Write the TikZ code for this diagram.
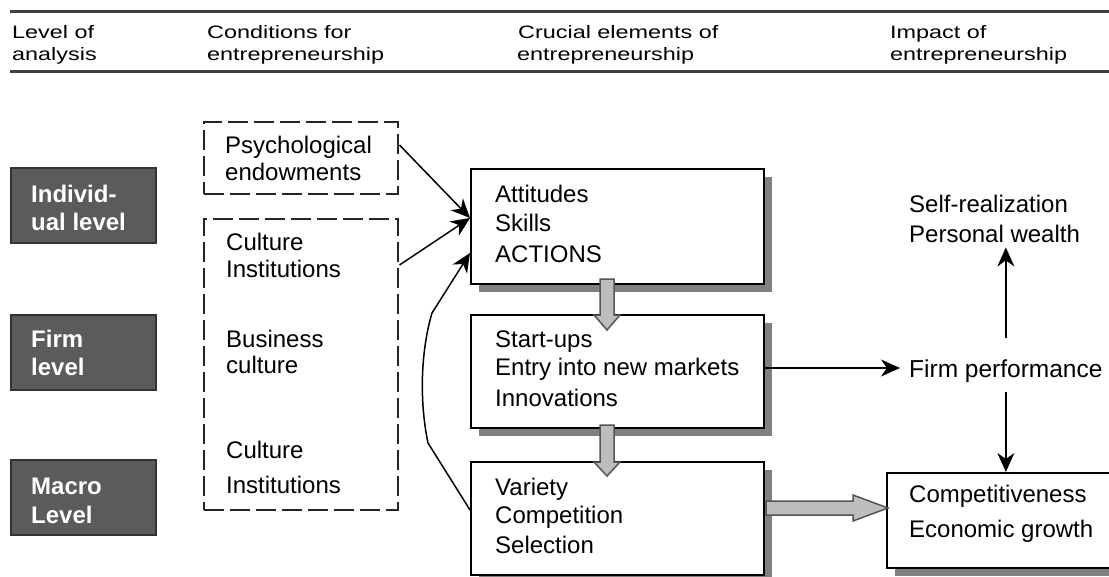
\documentclass[tikz,border=0pt]{standalone}
\usepackage{fontspec}
\setmainfont{Liberation Sans}
\newfontfamily\hdrfont[FakeStretch=1.3]{Liberation Sans}
\usetikzlibrary{calc,arrows.meta,shadows}
\definecolor{lvlgray}{HTML}{5B5B5B}
\definecolor{blkfill}{HTML}{BDBDBD}
\definecolor{blkline}{HTML}{555555}
\definecolor{shadowgray}{HTML}{808080}
\tikzset{
  txt/.style={anchor=base west, inner sep=0pt, font=\fontsize{24}{29}\selectfont},
  hdr/.style={anchor=base west, inner sep=0pt, font=\hdrfont\fontsize{18}{22}\selectfont},
  lvl/.style={draw=black!80, line width=1.5pt, fill=lvlgray, minimum width=145pt, minimum height=75pt, anchor=north west, inner sep=0pt},
  lvltxt/.style={anchor=base west, inner sep=0pt, text=white, font=\bfseries\fontsize{24}{29}\selectfont},
  dbox/.style={draw=black!85, line width=1.5pt, dash pattern=on 20pt off 6pt, anchor=north west, inner sep=0pt},
  sbox/.style={draw=black, line width=2pt, fill=white, anchor=north west, inner sep=0pt,
    drop shadow={shadow xshift=8pt, shadow yshift=-8pt, fill=shadowgray, opacity=1}},
  arr/.style={line width=1.5pt, -{Stealth[length=19pt,width=17pt,inset=6pt]}},
  blk/.style={draw=blkline, line width=1.5pt, fill=blkfill, line join=miter},
  rule/.style={line width=2.5pt, draw=black!75}
}
\begin{document}
\begin{tikzpicture}[x=1pt,y=-1pt]
\useasboundingbox (0,0) rectangle (1109,576);
\clip (0,0) rectangle (1109,576);
\fill[white] (0,0) rectangle (1109,576);

% header rules
\coordinate (r1a) at (10,11.5);
\coordinate (r1b) at (1109,11.5);
\coordinate (r2a) at (10,71.5);
\coordinate (r2b) at (1109,71.5);
\draw[rule] (r1a) -- (r1b);
\draw[rule] (r2a) -- (r2b);

% headers
\node[hdr] (h1a) at (12,38) {Level of};
\node[hdr] (h1b) at (12,60) {analysis};
\node[hdr] (h2a) at (207,38) {Conditions for};
\node[hdr] (h2b) at (207,60) {entrepreneurship};
\node[hdr] (h3a) at (518,38) {Crucial elements of};
\node[hdr] (h3b) at (517,60) {entrepreneurship};
\node[hdr] (h4a) at (890,38) {Impact of};
\node[hdr] (h4b) at (890,60) {entrepreneurship};

% level boxes
\node[lvl] (L1) at (10,167) {};
\node[lvl] (L2) at (10,314) {};
\node[lvl] (L3) at (10,459) {};
\node[lvltxt] (L1a) at (31,202) {Individ-};
\node[lvltxt] (L1b) at (31,230) {ual level};
\node[lvltxt] (L2a) at (31,347) {Firm};
\node[lvltxt] (L2b) at (31,375) {level};
\node[lvltxt] (L3a) at (31,494) {Macro};
\node[lvltxt] (L3b) at (31,523) {Level};

% dashed condition boxes
\node[dbox, minimum width=194pt, minimum height=72pt] (p1) at (203,121) {};
\node[dbox, minimum width=194pt, minimum height=291pt] (p2) at (203,218) {};
\node[txt] (p1a) at (225,153) {Psychological};
\node[txt] (p1b) at (225,180) {endowments};
\node[txt] (p2a) at (226,250) {Culture};
\node[txt] (p2b) at (226,277) {Institutions};
\node[txt] (p2c) at (226,347) {Business};
\node[txt] (p2d) at (226,373) {culture};
\node[txt] (p2e) at (226,458) {Culture};
\node[txt] (p2f) at (226,493) {Institutions};

% central boxes
\node[sbox, minimum width=293pt, minimum height=115pt] (b1) at (470,168) {};
\node[sbox, minimum width=293pt, minimum height=113pt] (b2) at (470,314) {};
\node[sbox, minimum width=293pt, minimum height=113pt] (b3) at (470,461) {};
\node[sbox, minimum width=280pt, minimum height=95pt] (cb) at (886,472) {};

\node[txt] (b1a) at (495,202) {Attitudes};
\node[txt] (b1b) at (495,231) {Skills};
\node[txt] (b1c) at (495,262) {ACTIONS};
\node[txt] (b2a) at (495,347) {Start-ups};
\node[txt] (b2b) at (495,375) {Entry into new markets};
\node[txt] (b2c) at (495,406) {Innovations};
\node[txt] (b3a) at (495,495) {Variety};
\node[txt] (b3b) at (495,523) {Competition};
\node[txt] (b3c) at (495,553) {Selection};
\node[txt] (cba) at (909,502) {Competitiveness};
\node[txt] (cbb) at (909,537) {Economic growth};

% impact texts
\node[txt] (sr) at (909,212) {Self-realization};
\node[txt] (pw) at (909,242) {Personal wealth};
\node[txt, font=\fontsize{24.5}{29}\selectfont] (fp) at (909,377) {Firm performance};

% block arrows
\draw[blk, shift={($(b1.south)+(-10.5,0)$)}]
  (-7,-6) -- (7,-6) -- (7,30) -- (13,30) -- (0,45) -- (-13,30) -- (-7,30) -- cycle;
\draw[blk, shift={($(b2.south)+(-10.5,0)$)}]
  (-7,-4) -- (7,-4) -- (7,33) -- (13,33) -- (0,47) -- (-13,33) -- (-7,33) -- cycle;
\draw[blk, shift={(b3.east)}]
  (1,-17.5) -- (88,-17.5) -- (88,-23.5) -- (123,-10.5) -- (88,2.5) -- (88,-3.5) -- (1,-3.5) -- cycle;

% thin arrows
\coordinate (c1) at ($(b1.north west)+(0,50)$);
\coordinate (c2) at ($(b1.north west)+(0,85)$);
\coordinate (fpa) at ($(b2.east)+(0,-3.5)$);
\coordinate (fpb) at ($(fpa -| fp.west)+(-9,0)$);
\coordinate (fpt) at ($(fp.north)+(0,-21)$);
\coordinate (fpu) at ($(fp.north |- pw.south)+(0,5)$);
\coordinate (fpd) at ($(fp.south)+(0,10)$);
\draw[arr] ($(p1.north east)+(1,24)$) -- (c1);
\draw[arr] ($(p2.north east)+(1,47)$) -- (c1);
\draw[arr] ($(b3.north west)+(0,49)$) -- (428,443) .. controls (419,400) and (421,350) .. (432,313) -- (c2);
\draw[arr] (fpa) -- (fpb);
\draw[arr] (fpt) -- (fpu);
\draw[arr] (fpd) -- (fpd |- cb.north);
\end{tikzpicture}
\end{document}
